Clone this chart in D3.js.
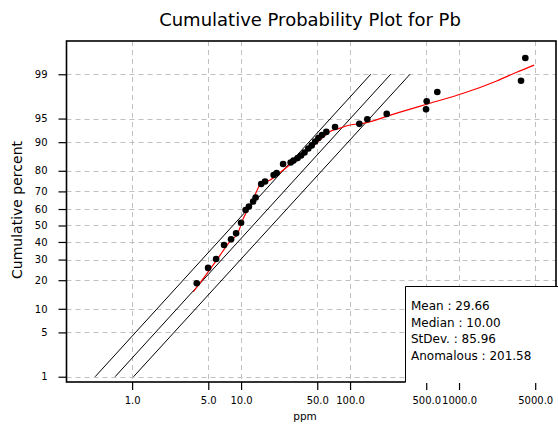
<!DOCTYPE html>
<html><head><meta charset="utf-8">
<script src="https://cdn.jsdelivr.net/npm/d3@7"></script>
<style>
html,body{margin:0;padding:0;background:#fff;}
svg{display:block;}
text{font-family:"DejaVu Sans",sans-serif;fill:#000;}
</style></head>
<body>
<svg id="chart" width="558" height="424"></svg>
<script>
// ---- data ----
const titleText = "Cumulative Probability Plot for Pb";
const xLabel = "ppm";
const yLabel = "Cumulative percent";
const xTicks = [1, 5, 10, 50, 100, 500, 1000, 5000];
const yTicks = [1, 5, 10, 20, 30, 40, 50, 60, 70, 80, 90, 95, 99];
const xDomain = [0.25, 7760];
const yDomainPct = [0.803, 99.773];

// sample points [ppm, cumulative %]
const sampleValues = [3.92, 4.98, 5.90, 6.98, 8.09, 9.0, 10.0, 11.0, 11.8, 12.9, 13.6, 15.3, 16.6, 19.9, 21.2, 24.3,
  28.5, 30.3, 33.0, 35.5, 38.2, 41.4, 44.5, 47.8, 51.2, 55.3, 60.6, 72.8, 121.7, 144, 217, 498, 505, 632, 3706, 4058];
const samplePercents = [18.7, 25.7, 30.3, 38.2, 41.6, 45.2, 51.7, 59.4, 61.5, 64.4, 66.7, 73.8, 75.1, 78.1, 79.0, 82.8,
  83.4, 84.1, 85.0, 85.9, 86.9, 88.2, 89.1, 90.2, 91.1, 91.8, 92.5, 93.5, 94.1, 94.9, 95.7, 96.3, 97.2, 98.0, 98.7, 99.5];

// fitted (red) curve [ppm, %]
const fitValues = [3.65, 5.01, 5.99, 7.65, 9.45, 10.5, 12.5, 14.9, 18.5, 24.4, 30.2, 40.1, 53.1, 65.6, 80.9, 100, 132, 268, 542, 1095, 2218, 3381, 4876];
const fitPercents = [15.4, 23.9, 29.8, 39.2, 46.2, 54.4, 63.4, 73.3, 75.8, 80.3, 83.7, 87.2, 90.6, 92.6, 93.3, 93.9, 94.2, 95.8, 97.0, 97.9, 98.69, 99.08, 99.32];

// reference lognormal line and bounds [ppm, %]
const lineLower = [[0.458, 1], [154.9, 99]];
const lineMiddle = [[0.698, 1], [236, 99]];
const lineUpper = [[1.03, 1], [355, 99]];

const statLabels = ["Mean", "Median", "StDev.", "Anomalous"];
const statValues = ["29.66", "10.00", "85.96", "201.58"];

// ---- helpers ----
function probit(p){
  const a=[-3.969683028665376e+01,2.209460984245205e+02,-2.759285104469687e+02,1.383577518672690e+02,-3.066479806614716e+01,2.506628277459239e+00];
  const b=[-5.447609879822406e+01,1.615858368580409e+02,-1.556989798598866e+02,6.680131188771972e+01,-1.328068155288572e+01];
  const c=[-7.784894002430293e-03,-3.223964580411365e-01,-2.400758277161838e+00,-2.549732539343734e+00,4.374664141464968e+00,2.938163982698783e+00];
  const d=[7.784695709041462e-03,3.224671290700398e-01,2.445134137142996e+00,3.754408661907416e+00];
  const pl=0.02425, ph=1-pl; let q,r;
  if(p<pl){q=Math.sqrt(-2*Math.log(p));return (((((c[0]*q+c[1])*q+c[2])*q+c[3])*q+c[4])*q+c[5])/((((d[0]*q+d[1])*q+d[2])*q+d[3])*q+1);}
  if(p<=ph){q=p-0.5;r=q*q;return (((((a[0]*r+a[1])*r+a[2])*r+a[3])*r+a[4])*r+a[5])*q/(((((b[0]*r+b[1])*r+b[2])*r+b[3])*r+b[4])*r+1);}
  q=Math.sqrt(-2*Math.log(1-p));return -(((((c[0]*q+c[1])*q+c[2])*q+c[3])*q+c[4])*q+c[5])/((((d[0]*q+d[1])*q+d[2])*q+d[3])*q+1);
}

// ---- layout ----
const L = 66.5, R = 556, T = 41, B = 382;
const svg = d3.select("#chart");

const x = d3.scaleLog().domain(xDomain).range([L, R]);
const zScale = d3.scaleLinear().domain(yDomainPct.map(p => probit(p/100))).range([B, T]);
const y = p => zScale(probit(p/100));

// grid
const grid = svg.append("g").attr("stroke", "#c0c0c0").attr("stroke-dasharray", "5,4").attr("stroke-width", 1);
grid.selectAll("line.h").data(yTicks).join("line").attr("class","h")
  .attr("x1", L).attr("x2", R).attr("y1", d => Math.round(y(d))+0.5).attr("y2", d => Math.round(y(d))+0.5);
grid.selectAll("line.v").data(xTicks).join("line").attr("class","v")
  .attr("y1", T).attr("y2", B).attr("x1", d => Math.round(x(d))+0.5).attr("x2", d => Math.round(x(d))+0.5);

// reference lines
const refLine = d3.line().x(d => x(d[0])).y(d => y(d[1]));
[lineLower, lineMiddle, lineUpper].forEach(ln => {
  svg.append("path").attr("d", refLine(ln)).attr("fill","none").attr("stroke","#000").attr("stroke-width",1);
});

// fitted curve
const fitPts = fitValues.map((v,i) => [v, fitPercents[i]]);
svg.append("path")
  .attr("d", d3.line().x(d => x(d[0])).y(d => y(d[1])).curve(d3.curveMonotoneX)(fitPts))
  .attr("fill","none").attr("stroke","#ff0000").attr("stroke-width",1.2);

// points
const pts = sampleValues.map((v,i) => [v, samplePercents[i]]);
svg.append("g").selectAll("circle").data(pts).join("circle")
  .attr("cx", d => x(d[0])).attr("cy", d => y(d[1])).attr("r", 3.3).attr("fill","#000");

// frame
svg.append("rect").attr("x", L).attr("y", T).attr("width", R-L).attr("height", B-T)
  .attr("fill","none").attr("stroke","#000").attr("stroke-width",1.6);

// axes
const xAxis = d3.axisBottom(x).tickValues(xTicks).tickFormat(d3.format(".1f")).tickSize(8).tickSizeOuter(0).tickPadding(7);
const gx = svg.append("g").attr("transform", `translate(0,${B})`).call(xAxis);
gx.select(".domain").remove();
gx.selectAll("text").attr("font-family","DejaVu Sans").attr("font-size",10).attr("fill","#000");
gx.selectAll("line").attr("stroke","#000").attr("stroke-width",1.2);

const yAxis = d3.axisLeft(zScale).tickValues(yTicks.map(p => probit(p/100))).tickFormat((d,i) => yTicks[i])
  .tickSize(8).tickSizeOuter(0).tickPadding(11);
const gy = svg.append("g").attr("transform", `translate(${L},0)`).call(yAxis);
gy.select(".domain").remove();
gy.selectAll("text").attr("font-family","DejaVu Sans").attr("font-size",10).attr("fill","#000");
gy.selectAll("line").attr("stroke","#000").attr("stroke-width",1.2);

// stats box
const bx = 405, by = 286;
svg.append("rect").attr("x", bx).attr("y", by).attr("width", 160).attr("height", B - by + 1).attr("fill","#fff");
svg.append("path").attr("d", `M${bx+0.5},${B+0.5}V${by+0.5}H565`).attr("fill","none").attr("stroke","#000").attr("stroke-width",1);
svg.append("g").selectAll("text").data(statLabels).join("text")
  .attr("x", bx + 6).attr("y", (d,i) => 310 + i*16.7)
  .attr("font-size", 12)
  .text((d,i) => `${d} : ${statValues[i]}`);

// titles
svg.append("text").attr("x", 310).attr("y", 26).attr("text-anchor","middle").attr("font-size",18).text(titleText);
svg.append("text").attr("x", 305).attr("y", 420).attr("text-anchor","middle").attr("font-size",10.5).text(xLabel);
svg.append("text").attr("transform","translate(22,210) rotate(-90)").attr("text-anchor","middle").attr("font-size",14).text(yLabel);
</script>
</body></html>
